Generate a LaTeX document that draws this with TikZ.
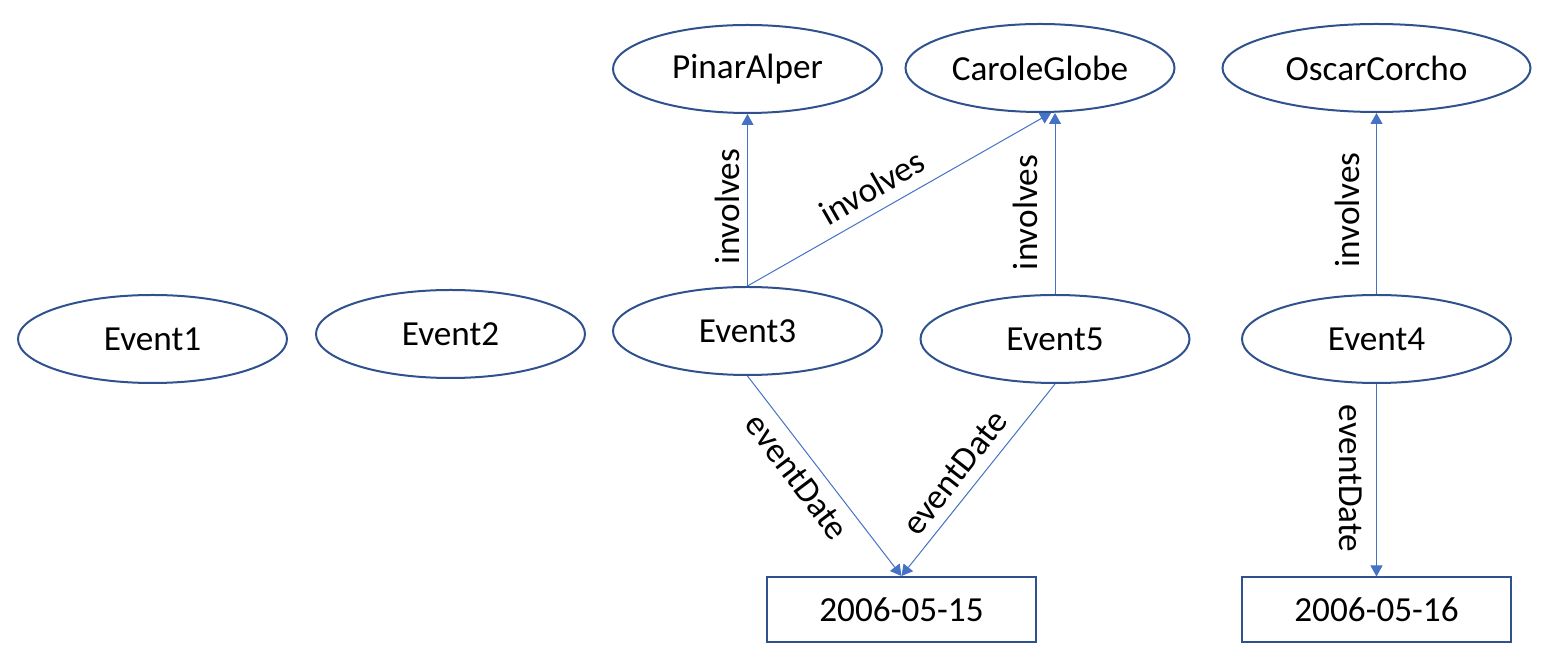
\documentclass[tikz,border=0pt]{standalone}
\usepackage{fontspec}
\setmainfont{Carlito}
\usetikzlibrary{shapes.geometric,arrows.meta}
\definecolor{outl}{HTML}{2F528F}
\definecolor{arr}{HTML}{4472C4}
\tikzset{
  res/.style={ellipse, draw=outl, line width=1pt, inner sep=0pt, minimum width=134.5pt, minimum height=44pt, font=\fontsize{17.6}{20}\selectfont},
  lit/.style={rectangle, draw=outl, line width=1pt, inner sep=0pt, minimum width=134.5pt, minimum height=32.5pt, font=\fontsize{17.6}{20}\selectfont},
  rel/.style={draw=arr, line width=0.5pt, -{Triangle[length=5.5pt,width=6pt]}},
  lbl/.style={inner sep=0pt, font=\fontsize{17.6}{20}\selectfont}
}
\begin{document}
\begin{tikzpicture}[x=0.5pt,y=-0.5pt]
\useasboundingbox (0,0) rectangle (1565,667);
\node[res] (e1) at (152.5,339) {Event1};
\node[res] (e2) at (450.5,334) {Event2};
\node[res] (e3) at (747.5,331) {Event3};
\node[res] (e5) at (1055,339) {Event5};
\node[res] (e4) at (1376.5,339) {Event4};
\node[res] (pa) at (747.5,69) {PinarAlper};
\node[res] (cg) at (1040,68) {CaroleGlobe};
\node[res, minimum width=154pt] (oc) at (1376.5,68) {OscarCorcho};
\node[lit] (d1) at (901.5,609.5) {2006-05-15};
\node[lit] (d2) at (1376.5,610) {2006-05-16};

\draw[rel] (e3.north) -- (pa.south) node[lbl, rotate=90] at (727.5,206.5) {involves};
\draw[rel] (e3.north) -- (cg.-76) node[lbl, rotate=29.8] at (872,187) {involves};
\draw[rel] (e5.north) -- (e5.north |- cg.south) node[lbl, rotate=90] at (1025.5,212.5) {involves};
\draw[rel] (e4.north) -- (oc.south) node[lbl, rotate=90] at (1347.5,210) {involves};
\draw[rel] (e3.south) -- (d1.north) node[lbl, rotate=-53] at (797,477) {eventDate};
\draw[rel] (e5.south) -- (d1.north) node[lbl, rotate=52] at (955,473) {eventDate};
\draw[rel] (e4.south) -- (d2.north) node[lbl, rotate=-90] at (1350.5,478.5) {eventDate};
\end{tikzpicture}
\end{document}
